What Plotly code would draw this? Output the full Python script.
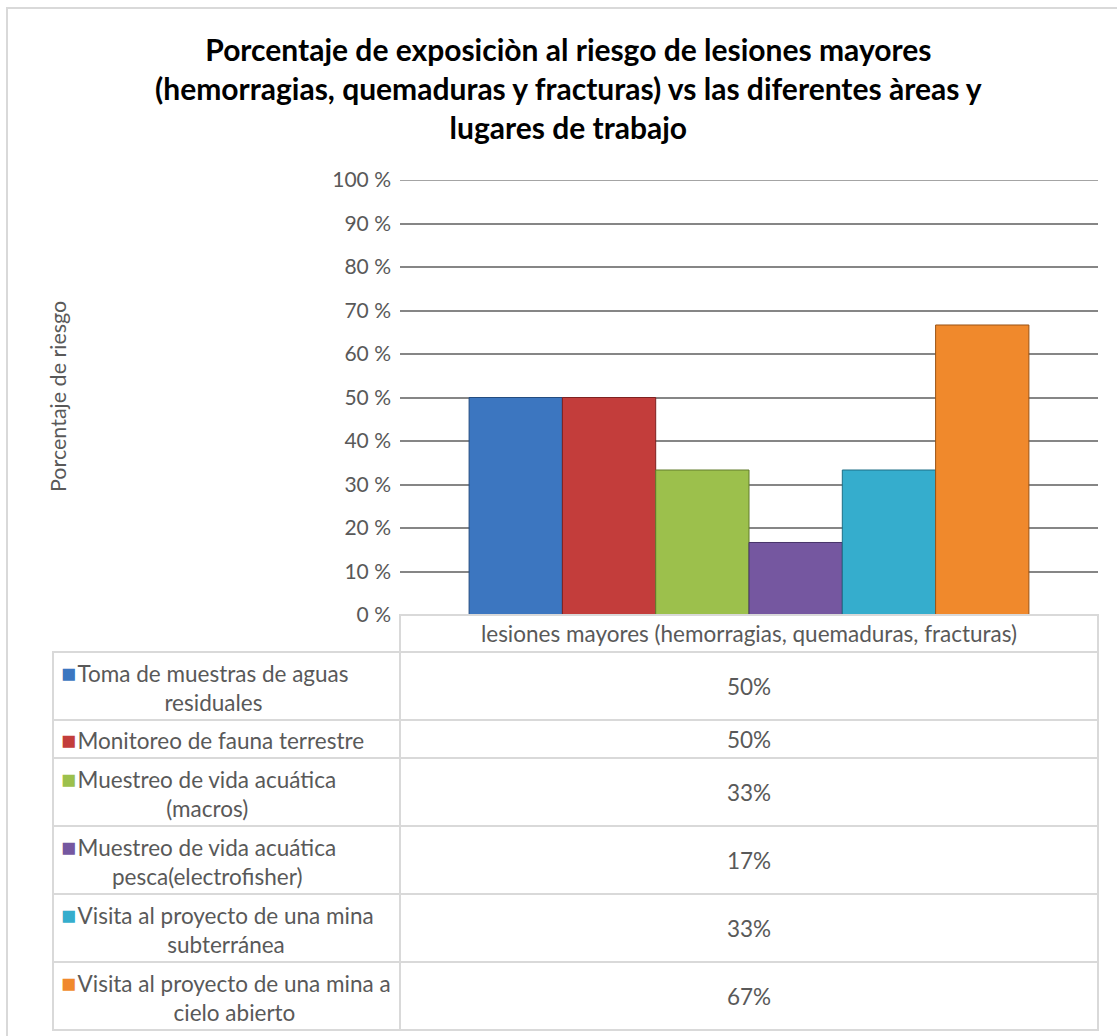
import textwrap
import plotly.graph_objects as go

# data
title_lines = [
    "Porcentaje de exposiciòn al riesgo de lesiones mayores",
    "(hemorragias, quemaduras y fracturas) vs las diferentes àreas y",
    "lugares de trabajo",
]
category = "lesiones mayores (hemorragias, quemaduras, fracturas)"
areas = [
    "Toma de muestras de aguas residuales",
    "Monitoreo de fauna terrestre",
    "Muestreo de vida acuática (macros)",
    "Muestreo de vida acuática pesca(electrofisher)",
    "Visita al proyecto de una mina subterránea",
    "Visita al proyecto de una mina a cielo abierto",
]
percent = [50, 50, 33.33, 16.67, 33.33, 66.67]
colors = ["#3C76C0", "#C33D3B", "#9CC04C", "#7557A0", "#35ADCD", "#F0892C"]
edges = ["#244C80", "#7E2221", "#627C2C", "#48346A", "#1F6F86", "#9A5315"]
y_ticks = list(range(0, 101, 10))

W, H = 1117, 1036
TXT = "#595959"
GRIDC = "#d9d9d9"
FONT = "Lato, Carlito, sans-serif"


def px(x):
    return x / W


def py(y):
    return 1 - y / H


fig = go.Figure()
for name, val, col, edge in zip(areas, percent, colors, edges):
    fig.add_trace(go.Bar(
        x=[category], y=[val], name=name,
        marker=dict(color=col, line=dict(color=edge, width=1)),
    ))

# plot area in pixels
PL, PR, PT, PB = 400, 1098, 180, 615

fig.update_layout(
    width=W, height=H,
    margin=dict(l=0, r=0, t=0, b=0, autoexpand=False),
    paper_bgcolor="white", plot_bgcolor="white",
    barmode="group", bargap=0.198, bargroupgap=0,
    showlegend=False,
    font=dict(family=FONT, size=21, color=TXT),
    xaxis=dict(domain=[px(PL), px(PR)], showgrid=False, ticks="",
               showline=False, ticklabelstandoff=3, automargin=False,
               tickfont=dict(size=22.5, color=TXT)),
    yaxis=dict(domain=[py(PB), py(PT)], range=[0, 100], fixedrange=True,
               tickvals=y_ticks, ticktext=[f"{t} %" for t in y_ticks],
               showgrid=True, gridcolor="#868686", gridwidth=1.5,
               zeroline=True, zerolinecolor=GRIDC, zerolinewidth=2,
               showline=False, ticks="", ticklabelstandoff=8,
               automargin=False,
               tickfont=dict(size=21, color=TXT)),
)

shapes = []
annotations = []

# top gridline (100 %) that plotly leaves out at the range edge
shapes.append(dict(type="line", xref="paper", yref="y",
                   x0=px(PL), x1=px(PR), y0=y_ticks[-1], y1=y_ticks[-1],
                   line=dict(color="#868686", width=1.5), layer="below"))

# outer chart border
shapes.append(dict(type="rect", xref="paper", yref="paper",
                   x0=px(7), x1=1.02, y0=-0.02, y1=py(8),
                   line=dict(color=GRIDC, width=2)))

# header cell of the data table
shapes.append(dict(type="rect", xref="paper", yref="paper",
                   x0=px(PL), x1=px(PR), y0=py(652), y1=py(PB),
                   line=dict(color=GRIDC, width=2)))

# data table rows
TL = 53
top = 652
for name, val, col in zip(areas, percent, colors):
    lines = textwrap.wrap(name, 32)
    h = 30 * len(lines) + 8
    bottom = top + h
    shapes.append(dict(type="rect", xref="paper", yref="paper",
                       x0=px(TL), x1=px(PL), y0=py(bottom), y1=py(top),
                       line=dict(color=GRIDC, width=2)))
    shapes.append(dict(type="rect", xref="paper", yref="paper",
                       x0=px(PL), x1=px(PR), y0=py(bottom), y1=py(top),
                       line=dict(color=GRIDC, width=2)))
    # legend key in front of the first line, blank padding on the others
    # so that the text part of every line is centred on the same axis
    first = f"<span style='color:{col};font-size:25px'>■</span>\u200a"
    pad = "\u00a0\u00a0\u00a0"
    label = "<br>".join((first if i == 0 else pad) + ln
                        for i, ln in enumerate(lines))
    annotations.append(dict(xref="paper", yref="paper",
                            x=px(59), y=py((top + bottom) / 2),
                            text=label, showarrow=False, align="center",
                            xanchor="left", yanchor="middle",
                            font=dict(size=22.5, color=TXT)))
    annotations.append(dict(xref="paper", yref="paper",
                            x=px((PL + PR) / 2), y=py((top + bottom) / 2),
                            text=f"{round(val)}%", showarrow=False,
                            xanchor="center", yanchor="middle",
                            font=dict(size=22.5, color=TXT)))
    top = bottom

# title
annotations.append(dict(xref="paper", yref="paper", x=px(568), y=py(88),
                        text="<br>".join(title_lines), showarrow=False,
                        align="center", xanchor="center", yanchor="middle",
                        font=dict(size=30, color="black", family=FONT,
                                  weight="bold")))

# y axis title
annotations.append(dict(xref="paper", yref="paper", x=px(58), y=py(397),
                        text="Porcentaje de riesgo", showarrow=False,
                        textangle=-90, xanchor="center", yanchor="middle",
                        font=dict(size=21.5, color=TXT)))

fig.update_layout(shapes=shapes, annotations=annotations)

# pin the figure to the top-left corner of the page
pin = (
    "document.body.style.margin='0';"
    "document.body.style.overflow='hidden';"
    "var d=document.getElementById('{plot_id}');"
    "d.style.position='absolute';d.style.top='0';d.style.left='0';"
)
fig.write_html("out.html", post_script=pin,
               config={"displayModeBar": False})
